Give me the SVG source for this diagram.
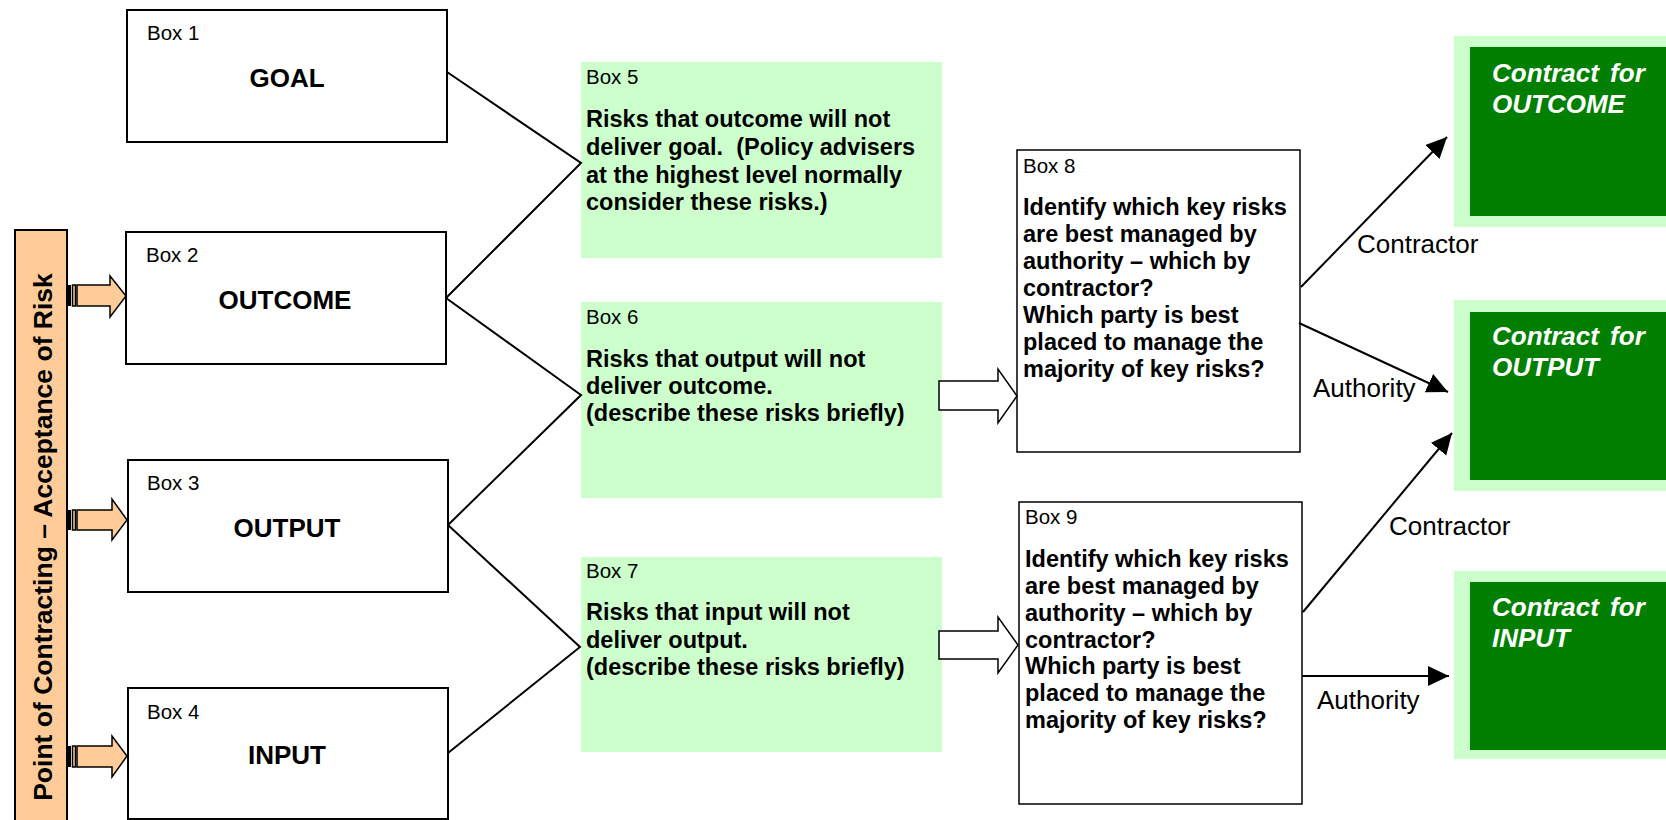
<svg xmlns="http://www.w3.org/2000/svg" width="1666" height="820" viewBox="0 0 1666 820">
<style>
text{font-family:"Liberation Sans",Arial,sans-serif;fill:#000}
.box{fill:#fff;stroke:#000;stroke-width:2}
.risk{fill:#ccffcc;stroke:none}
.lbl{font-size:20.5px}
.main{font-size:26px;font-weight:bold;text-anchor:middle}
.body{font-size:23.5px;font-weight:bold}
.outer{fill:#ccffcc}
.inner{fill:#007f00}
.ct{font-size:26px;font-weight:bold;font-style:italic;fill:#fff;word-spacing:4px}
.edge{font-size:26px}
.ln{stroke:#000;stroke-width:2;fill:none}
.blk{fill:#fff;stroke:#000;stroke-width:1.5}
.orng{fill:#ffcc99;stroke:#000;stroke-width:1.5}
</style>
<defs>
<marker id="ah" markerUnits="userSpaceOnUse" markerWidth="22" markerHeight="22" refX="21" refY="10" orient="auto">
<path d="M0,0 L21,10 L0,20 Z" fill="#000"/>
</marker>
</defs>

<g id="bar">
<rect x="15" y="230" width="52" height="593" fill="#ffcc99" stroke="#000" stroke-width="2"/>
<text transform="translate(52,537) rotate(-90)" text-anchor="middle" style="font-size:26.5px;font-weight:bold">Point of Contracting – Acceptance of Risk</text>
</g>

<g id="bar-arrows">
<rect x="68" y="285" width="3" height="21" fill="#000"/>
<rect x="72.5" y="285" width="3" height="21" class="orng"/>
<path class="orng" d="M77,285 H110 V276 L126,296 L110,317 V306 H77 Z"/>
<rect x="68" y="510" width="3" height="20" fill="#000"/>
<rect x="72.5" y="510" width="3" height="20" class="orng"/>
<path class="orng" d="M77,510 H112 V499 L127,520 L112,540 V530 H77 Z"/>
<rect x="68" y="746" width="3" height="21" fill="#000"/>
<rect x="72.5" y="746" width="3" height="21" class="orng"/>
<path class="orng" d="M77,746 H112 V736 L127,756 L112,777 V767 H77 Z"/>
</g>

<g id="box1">
<rect class="box" x="127" y="10" width="320" height="132"/>
<text class="lbl" x="147" y="40">Box 1</text>
<text class="main" x="287" y="87">GOAL</text>
</g>
<g id="box2">
<rect class="box" x="126" y="232" width="320" height="132"/>
<text class="lbl" x="146" y="262">Box 2</text>
<text class="main" x="285" y="309">OUTCOME</text>
</g>
<g id="box3">
<rect class="box" x="128" y="460" width="320" height="132"/>
<text class="lbl" x="147" y="490">Box 3</text>
<text class="main" x="287" y="537">OUTPUT</text>
</g>
<g id="box4">
<rect class="box" x="128" y="688" width="320" height="131"/>
<text class="lbl" x="147" y="719">Box 4</text>
<text class="main" x="287" y="764">INPUT</text>
</g>

<g id="box5">
<rect class="risk" x="581" y="62" width="361" height="196"/>
<text class="lbl" x="586" y="84">Box 5</text>
<text class="body" x="586" y="127">Risks that outcome will not</text>
<text class="body" x="586" y="155" xml:space="preserve">deliver goal.  (Policy advisers</text>
<text class="body" x="586" y="183">at the highest level normally</text>
<text class="body" x="586" y="210">consider these risks.)</text>
</g>
<g id="box6">
<rect class="risk" x="581" y="302" width="361" height="196"/>
<text class="lbl" x="586" y="324">Box 6</text>
<text class="body" x="586" y="367">Risks that output will not</text>
<text class="body" x="586" y="394">deliver outcome.</text>
<text class="body" x="586" y="421">(describe these risks briefly)</text>
</g>
<g id="box7">
<rect class="risk" x="581" y="557" width="361" height="195"/>
<text class="lbl" x="586" y="578">Box 7</text>
<text class="body" x="586" y="620">Risks that input will not</text>
<text class="body" x="586" y="648">deliver output.</text>
<text class="body" x="586" y="675">(describe these risks briefly)</text>
</g>

<g id="box8">
<rect class="box" x="1017" y="150" width="283" height="302" style="stroke-width:1.5"/>
<text class="lbl" x="1023" y="173">Box 8</text>
<text class="body" x="1023" y="215">Identify which key risks</text>
<text class="body" x="1023" y="242">are best managed by</text>
<text class="body" x="1023" y="269">authority – which by</text>
<text class="body" x="1023" y="296">contractor?</text>
<text class="body" x="1023" y="323">Which party is best</text>
<text class="body" x="1023" y="350">placed to manage the</text>
<text class="body" x="1023" y="377">majority of key risks?</text>
</g>
<g id="box9">
<rect class="box" x="1019" y="502" width="283" height="302" style="stroke-width:1.5"/>
<text class="lbl" x="1025" y="524">Box 9</text>
<text class="body" x="1025" y="567">Identify which key risks</text>
<text class="body" x="1025" y="594">are best managed by</text>
<text class="body" x="1025" y="621">authority – which by</text>
<text class="body" x="1025" y="648">contractor?</text>
<text class="body" x="1025" y="674">Which party is best</text>
<text class="body" x="1025" y="701">placed to manage the</text>
<text class="body" x="1025" y="728">majority of key risks?</text>
</g>

<g id="contract-outcome">
<rect class="outer" x="1454" y="36" width="212" height="191"/>
<rect class="inner" x="1470" y="47" width="196" height="169"/>
<text class="ct" x="1492" y="82">Contract for</text>
<text class="ct" x="1492" y="113">OUTCOME</text>
</g>
<g id="contract-output">
<rect class="outer" x="1454" y="300" width="212" height="191"/>
<rect class="inner" x="1470" y="312" width="196" height="168"/>
<text class="ct" x="1492" y="345">Contract for</text>
<text class="ct" x="1492" y="376">OUTPUT</text>
</g>
<g id="contract-input">
<rect class="outer" x="1454" y="571" width="212" height="188"/>
<rect class="inner" x="1470" y="582" width="196" height="168"/>
<text class="ct" x="1492" y="616">Contract for</text>
<text class="ct" x="1492" y="647">INPUT</text>
</g>

<g id="connectors">
<path class="ln" d="M447,72 L581,163 L446,298"/>
<path class="ln" d="M446,298 L581,395 L448,525"/>
<path class="ln" d="M448,525 L580,647 L448,753"/>
<path class="blk" d="M939,381 H998 V369 L1017,396 L998,423 V410 H939 Z"/>
<path class="blk" d="M939,631 H998 V617 L1018,645 L998,673 V659 H939 Z"/>
<line class="ln" x1="1301" y1="287" x2="1447" y2="137" marker-end="url(#ah)"/>
<line class="ln" x1="1299" y1="323" x2="1448" y2="392" marker-end="url(#ah)"/>
<line class="ln" x1="1303" y1="612" x2="1452" y2="433" marker-end="url(#ah)"/>
<line class="ln" x1="1302" y1="676" x2="1449" y2="676" marker-end="url(#ah)"/>
<text class="edge" x="1357" y="253">Contractor</text>
<text class="edge" x="1313" y="397">Authority</text>
<text class="edge" x="1389" y="535">Contractor</text>
<text class="edge" x="1317" y="709">Authority</text>
</g>
</svg>
